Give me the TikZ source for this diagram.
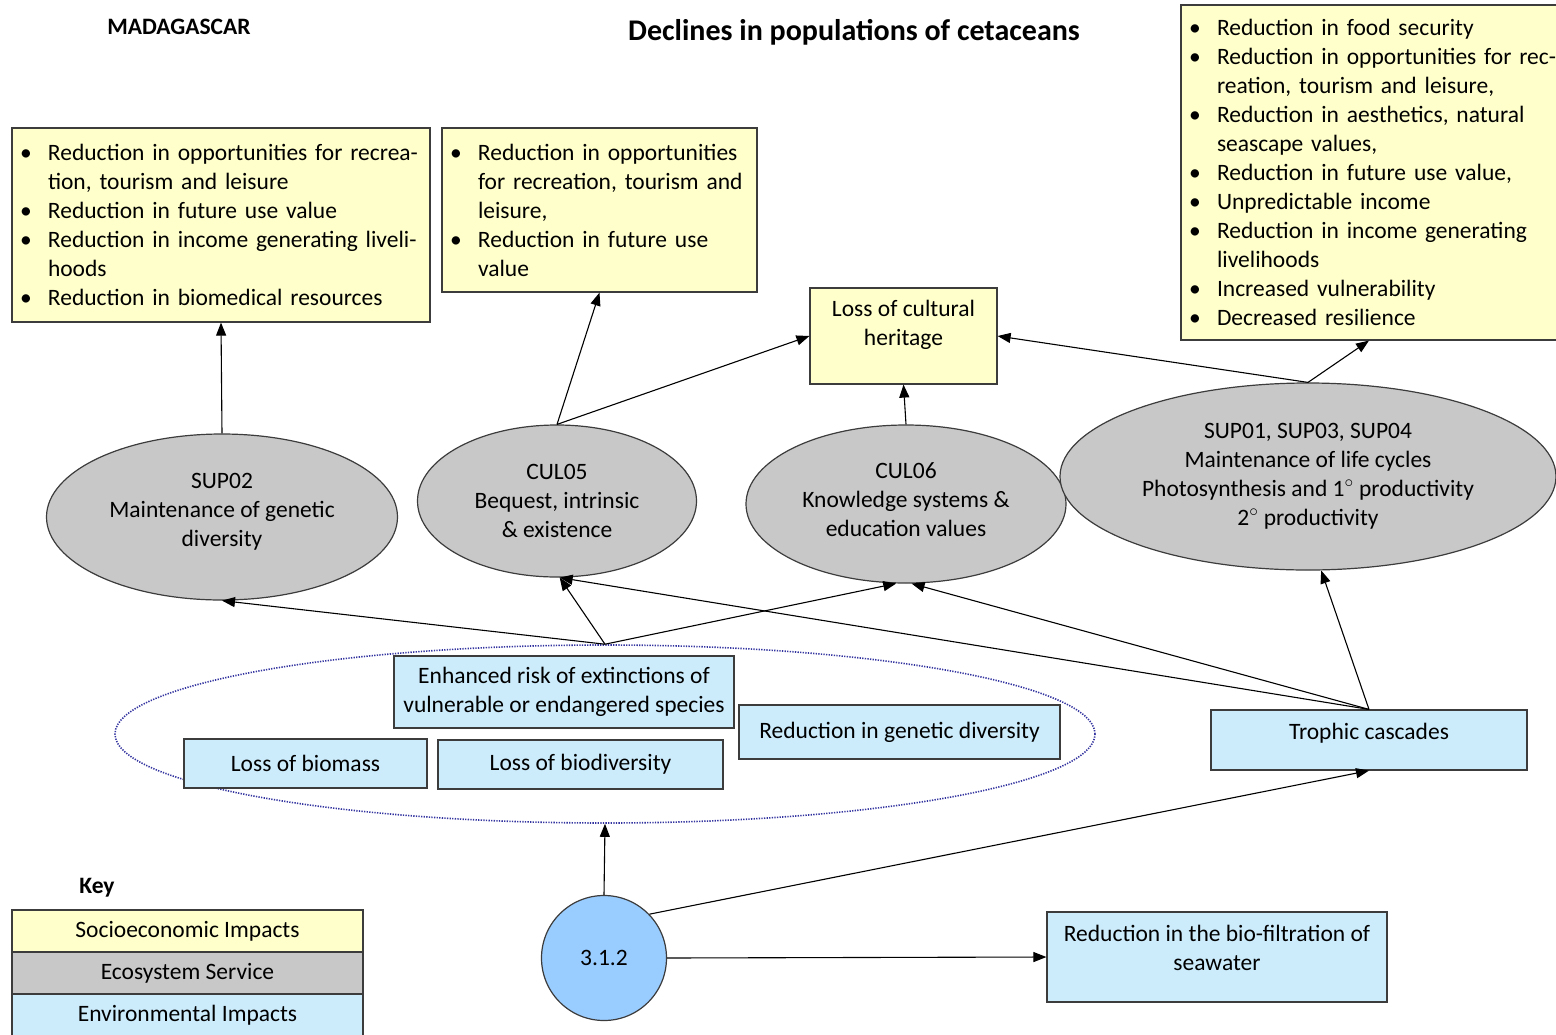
\documentclass[tikz,border=0pt]{standalone}
\usepackage{fontspec}
\setmainfont{Carlito}
\usetikzlibrary{shapes.geometric,arrows.meta}

\definecolor{socio}{HTML}{FFFFCC}
\definecolor{service}{HTML}{C8C8C8}
\definecolor{envblue}{HTML}{CCECFC}
\definecolor{pressblue}{HTML}{99CCFF}
\definecolor{edge}{HTML}{3C3C3C}
\definecolor{dotline}{HTML}{3434A0}

% bullet and hanging indent for the impact lists
\newcommand{\bitem}{\makebox[28pt][l]{\textbullet}}
\newcommand{\bcont}{\hspace*{28pt}}

\begin{document}
\begin{tikzpicture}[x=1pt, y=-1pt,
    every node/.style={font=\fontsize{23.5}{29}\selectfont},
    socbox/.style={draw=edge, fill=socio, line width=1.2pt, inner sep=0pt, align=center},
    listbox/.style={draw=edge, fill=socio, line width=1.2pt, inner ysep=0pt, inner xsep=8pt, align=left},
    envbox/.style={draw=edge, fill=envblue, line width=1.2pt, inner sep=0pt, align=center},
    service/.style={ellipse, draw=edge, fill=service, line width=1.2pt, inner sep=0pt, align=center},
    arr/.style={-{Triangle[length=13pt, width=10pt]}, line width=1.1pt}]

    \useasboundingbox (0,0) rectangle (1556,1034);

    % Headings
    \node[font=\fontsize{23.5}{29}\selectfont\bfseries] (country) at (179,27) {MADAGASCAR};
    \node[font=\fontsize{30}{36}\selectfont\bfseries] (title) at (854,32) {Declines in populations of cetaceans};

    % Socioeconomic impacts
    \node[listbox, text width=402pt, minimum height=194pt] (recA) at (221,225) {%
        \bitem Reduction in opportunities for recrea-\\
        \bcont tion, tourism and leisure\\
        \bitem Reduction in future use value\\
        \bitem Reduction in income generating liveli-\\
        \bcont hoods\\
        \bitem Reduction in biomedical resources};
    \node[listbox, text width=299pt, minimum height=164pt] (recB) at (599.5,210) {%
        \bitem Reduction in opportunities\\
        \bcont for recreation, tourism and\\
        \bcont leisure,\\
        \bitem Reduction in future use\\
        \bcont value};
    \node[socbox, minimum width=187pt, minimum height=96pt, text depth=26pt] (heritage) at (903.5,336)
        {Loss of cultural\\heritage};
    \node[listbox, text width=384pt, minimum height=335pt] (recD) at (1381,172.5) {%
        \bitem Reduction in food security\\
        \bitem Reduction in opportunities for rec-\\
        \bcont reation, tourism and leisure,\\
        \bitem Reduction in aesthetics, natural\\
        \bcont seascape values,\\
        \bitem Reduction in future use value,\\
        \bitem Unpredictable income\\
        \bitem Reduction in income generating\\
        \bcont livelihoods\\
        \bitem Increased vulnerability\\
        \bitem Decreased resilience};

    % Ecosystem services
    \node[service, minimum width=351pt, minimum height=166pt, text depth=13.5pt] (sup02) at (222,517)
        {SUP02\\Maintenance of genetic\\diversity};
    \node[service, minimum width=279pt, minimum height=152pt] (cul05) at (557,501)
        {CUL05\\Bequest, intrinsic\\\& existence};
    \node[service, minimum width=320pt, minimum height=158pt, text depth=9pt] (cul06) at (906,504)
        {CUL06\\Knowledge systems \&\\education values};
    \node[service, minimum width=496pt, minimum height=187pt] (sup01) at (1308,476.5)
        {SUP01, SUP03, SUP04\\Maintenance of life cycles\\Photosynthesis and 1$^{\circ}$ productivity\\2$^{\circ}$ productivity};

    % Environmental impacts grouped in the dotted ellipse
    \node[ellipse, draw=dotline, dash pattern=on 1.3pt off 1.3pt, line width=1.6pt, minimum width=980pt, minimum height=178pt] (env) at (605,734) {};
    \node[envbox, minimum width=340pt, minimum height=72pt] (risk) at (564,692)
        {Enhanced risk of extinctions of\\vulnerable or endangered species};
    \node[envbox, minimum width=321pt, minimum height=54pt] (gendiv) at (899.5,732)
        {Reduction in genetic diversity};
    \node[envbox, minimum width=243pt, minimum height=49pt] (biomass) at (305.5,763.5)
        {Loss of biomass};
    \node[envbox, minimum width=285pt, minimum height=49pt] (biodiv) at (580.5,764.5)
        {Loss of biodiversity};
    \node[envbox, minimum width=316pt, minimum height=60pt, text depth=18pt] (trophic) at (1369,740)
        {Trophic cascades};
    \node[envbox, minimum width=340pt, minimum height=90pt, text depth=18pt] (filter) at (1217,957)
        {Reduction in the bio-filtration of\\seawater};

    % Pressure
    \node[circle, draw=edge, fill=pressblue, line width=1.2pt, inner sep=0pt, minimum size=125pt] (press) at (604,958) {3.1.2};

    % Key
    \node[font=\fontsize{23.5}{29}\selectfont\bfseries] (keytitle) at (97,888) {Key};
    \node[socbox, minimum width=351pt, minimum height=42pt] (keysocio) at (187.5,931) {Socioeconomic Impacts};
    \node[socbox, fill=service, minimum width=351pt, minimum height=42pt] (keyservice) at (187.5,973) {Ecosystem Service};
    \node[envbox, minimum width=351pt, minimum height=42pt] (keyenv) at (187.5,1015) {Environmental Impacts};

    % Links from the services to the socioeconomic impacts
    \draw[arr] (sup02.north) -- (recA.south);
    \draw[arr] (cul05.north) -- (recB.south);
    \draw[arr] (cul05.north) -- (heritage.west);
    \draw[arr] (cul06.north) -- (heritage.south);
    \draw[arr] (sup01.north) -- (heritage.east);
    \draw[arr] (sup01.north) -- (trophic.north |- recD.south);

    % Links from the environmental impacts to the services
    \draw[arr] (env.north) -- (sup02.south);
    \draw[arr] (env.north) -- (cul05.-88);
    \draw[arr] (env.north) -- (cul06.-97);
    \draw[arr] (trophic.north) -- (cul05.-88);
    \draw[arr] (trophic.north) -- (cul06.-86);
    \draw[arr] (trophic.north) -- (sup01.-82);

    % Links from the pressure
    \draw[arr] (press.north) -- (env.south);
    \draw[arr] (press.44) -- (trophic.south);
    \draw[arr] (press.east) -- (filter.west);

\end{tikzpicture}
\end{document}
